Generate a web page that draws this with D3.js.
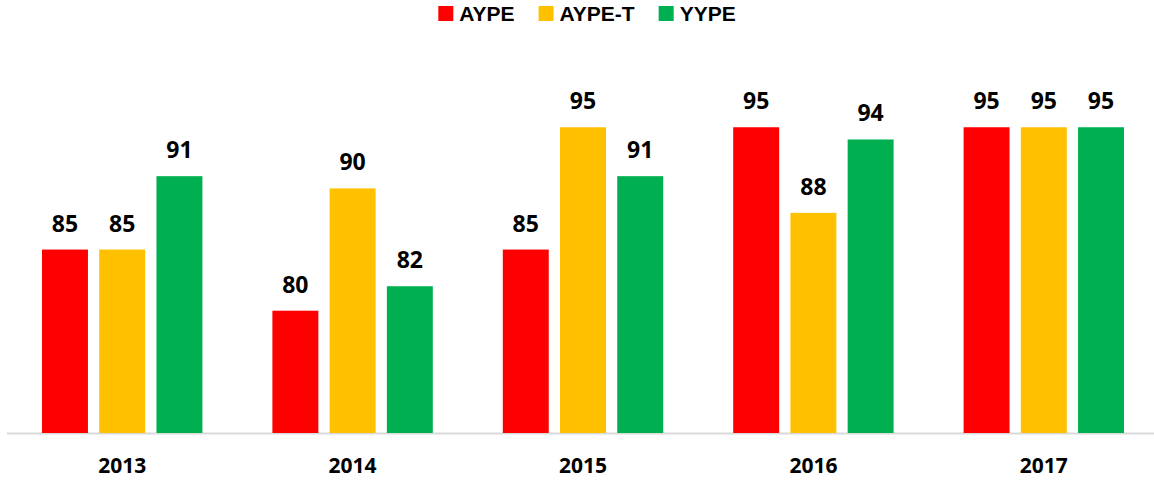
<!DOCTYPE html>
<html>
<head>
<meta charset="utf-8">
<script src="https://cdn.jsdelivr.net/npm/d3@7"></script>
<style>
  body { margin: 0; background: #fff; }
  text { font-family: "Open Sans", "Liberation Sans", sans-serif; font-weight: 700; fill: #000; }
  text.leg { font-family: "Liberation Sans", Arial, sans-serif; }
</style>
</head>
<body>
<div id="chart"></div>
<script>
var years = ["2013", "2014", "2015", "2016", "2017"];
var seriesNames = ["AYPE", "AYPE-T", "YYPE"];
var aype = [85, 80, 85, 95, 95];
var aypeT = [85, 90, 95, 88, 95];
var yype = [91, 82, 91, 94, 95];
var colors = ["#FF0000", "#FFC000", "#00B050"];

var w = 1154;
var h = 482;
var seriesValues = [aype, aypeT, yype];

var svg = d3.select("#chart").append("svg").attr("width", w).attr("height", h);

var x = d3.scaleBand().domain(years).range([7, 1159]).paddingInner(0).paddingOuter(0);
var xInner = d3.scaleBand().domain(seriesNames).range([35, x.bandwidth() - 35]).paddingInner(0.197);
var y = d3.scaleLinear().domain([70, 100]).range([433, 66.1]);

// baseline
svg.append("line")
  .attr("x1", 7).attr("x2", w)
  .attr("y1", 433.5).attr("y2", 433.5)
  .attr("stroke", "#D9D9D9").attr("stroke-width", 2);

var groups = svg.append("g").selectAll(".group")
  .data(years)
  .enter().append("g")
  .attr("class", "group")
  .attr("transform", (d) => "translate(" + x(d) + ",0)");

groups.selectAll("rect")
  .data((d, i) => seriesNames.map((s, j) => ({ s: s, v: seriesValues[j][i], c: colors[j] })))
  .enter().append("rect")
  .attr("x", (d) => xInner(d.s))
  .attr("width", xInner.bandwidth())
  .attr("y", (d) => y(d.v))
  .attr("height", (d) => y(70) - y(d.v))
  .attr("fill", (d) => d.c);

groups.selectAll(".val")
  .data((d, i) => seriesNames.map((s, j) => ({ s: s, v: seriesValues[j][i] })))
  .enter().append("text")
  .attr("class", "val")
  .attr("x", (d) => xInner(d.s) + xInner.bandwidth() / 2)
  .attr("y", (d) => y(d.v) - 18)
  .attr("text-anchor", "middle")
  .style("font-size", "23px")
  .text((d) => d.v);

// year labels
svg.append("g").selectAll(".year")
  .data(years)
  .enter().append("text")
  .attr("class", "year")
  .attr("x", (d) => x(d) + x.bandwidth() / 2)
  .attr("y", 472.5)
  .attr("text-anchor", "middle")
  .style("font-size", "21px")
  .text((d) => d);

// legend
var legend = svg.append("g");
var lx = 0;
seriesNames.forEach(function (s, j) {
  legend.append("rect")
    .attr("x", lx).attr("y", 6)
    .attr("width", 15).attr("height", 15)
    .attr("fill", colors[j]);
  var t = legend.append("text")
    .attr("class", "leg")
    .attr("x", lx + 21).attr("y", 21)
    .style("font-size", "21px")
    .text(s);
  lx += 21 + t.node().getComputedTextLength() + 24;
});
lx -= 24;
legend.attr("transform", "translate(" + (587 - lx / 2) + ",0)");
</script>
</body>
</html>
